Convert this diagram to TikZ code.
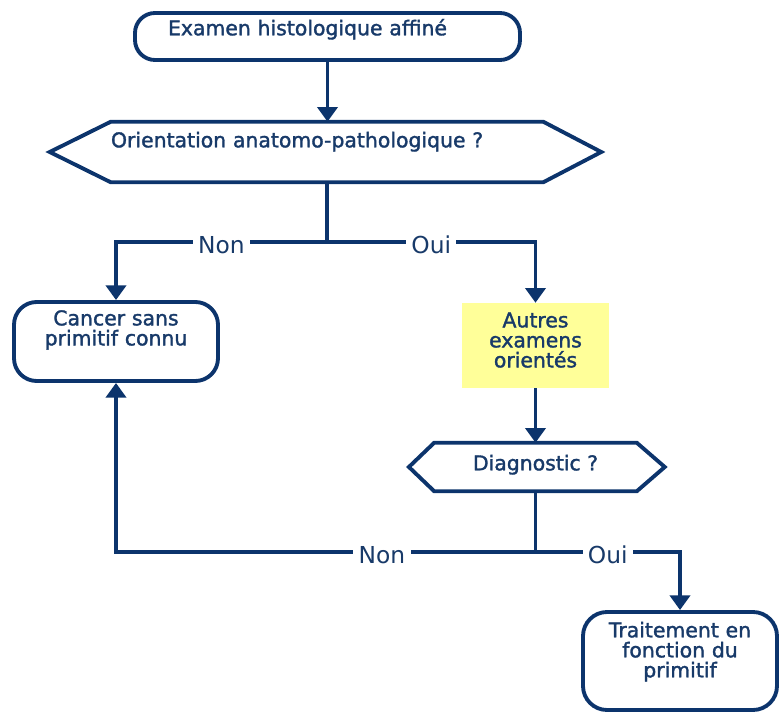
\documentclass[tikz,border=0pt]{standalone}
\usepackage{fontspec}
\setmainfont{DejaVu Sans}
\newfontfamily\boxfont[FakeBold=1.6]{DejaVu Sans}
\usetikzlibrary{arrows.meta, positioning}
\definecolor{navy}{RGB}{12,52,108}
\definecolor{inkblue}{RGB}{24,58,105}
\definecolor{paleyellow}{RGB}{255,255,153}

\begin{document}
\begin{tikzpicture}[
                    x=0.75pt, y=-0.75pt,
                    >={Triangle[width=15pt, length=11pt]},
                    flow/.style={draw=navy, line width=2.9pt},
                    boxtext/.style={text=inkblue, font=\boxfont\fontsize{15.3}{15}\selectfont, text height=11pt},
                    roundbox/.style={boxtext, draw=navy, line width=2.9pt, rounded corners=#1},
                    hexbody/.style={boxtext, inner xsep=0pt},
                    hexline/.style={draw=navy, line width=2.9pt, line join=miter},
                    yellowbox/.style={boxtext, fill=paleyellow, inner xsep=4pt},
                    answer/.style={fill=white, text=inkblue, font=\fontsize{17.5}{20}\selectfont,
                        inner xsep=4pt, inner ysep=1pt, yshift=-2pt}
                ]
                \useasboundingbox (0, 0) rectangle (779, 713);

                % boxes
                \node (top) at (327.5, 36.5) [roundbox=15pt, minimum height=35.25pt,
                    inner xsep=24.75pt, text width=239.25pt, align=left, text depth=12.8pt]
                    {Examen histologique affiné};
                \node (orient) at (327, 152) [hexbody, minimum height=45pt,
                    text width=324pt, align=left, text depth=18pt]
                    {Orientation anatomo-pathologique ?};
                \draw[hexline] (orient.north west) -- (orient.north east) -- ([xshift=43.5pt]orient.east)
                    -- (orient.south east) -- (orient.south west) -- ([xshift=-45.75pt]orient.west) -- cycle;

                \node (cancer) at (116, 341.5) [roundbox=17pt, minimum height=59.25pt,
                    inner xsep=4pt, text width=145pt, align=center, text depth=35.2pt]
                    {Cancer sans\\primitif connu};
                \node (autres) at (535.5, 345.5) [yellowbox, minimum height=63.75pt,
                    text width=102.25pt, align=center, text depth=38.2pt]
                    {Autres\\examens\\orientés};

                \node (diag) at (535.5, 467) [hexbody, minimum width=151.5pt, minimum height=36pt,
                    text depth=6pt] {Diagnostic ?};
                \draw[hexline] (diag.north west) -- (diag.north east) -- ([xshift=21pt]diag.east)
                    -- (diag.south east) -- (diag.south west) -- ([xshift=-19pt]diag.west) -- cycle;

                \node (trait) at (680, 661) [roundbox=18pt, minimum height=73.5pt,
                    inner xsep=4pt, text width=137.5pt, align=center, text depth=46.5pt]
                    {Traitement en\\fonction du\\primitif};

                % connectors
                \draw[flow, ->] (top.south) -- (top.south |- orient.north);
                \coordinate (split1) at ([yshift=-45pt]orient.south);
                \draw[flow] (orient.south) -- (split1);
                \draw[flow, ->] (split1) -| node[answer, pos=.25] {Non} (cancer.north);
                \draw[flow, ->] (split1) -| node[answer, pos=.25] {Oui} (autres.north);

                \draw[flow, ->] (autres.south) -- (autres.south |- diag.north);
                \coordinate (split2) at ([yshift=-45.75pt]diag.south);
                \draw[flow] (diag.south) -- (split2);
                \draw[flow, ->] (split2) -| node[answer, pos=.183] {Non} (cancer.south);
                \draw[flow, ->] (split2) -| node[answer, pos=.25] {Oui} (trait.north);
            \end{tikzpicture}
\end{document}
